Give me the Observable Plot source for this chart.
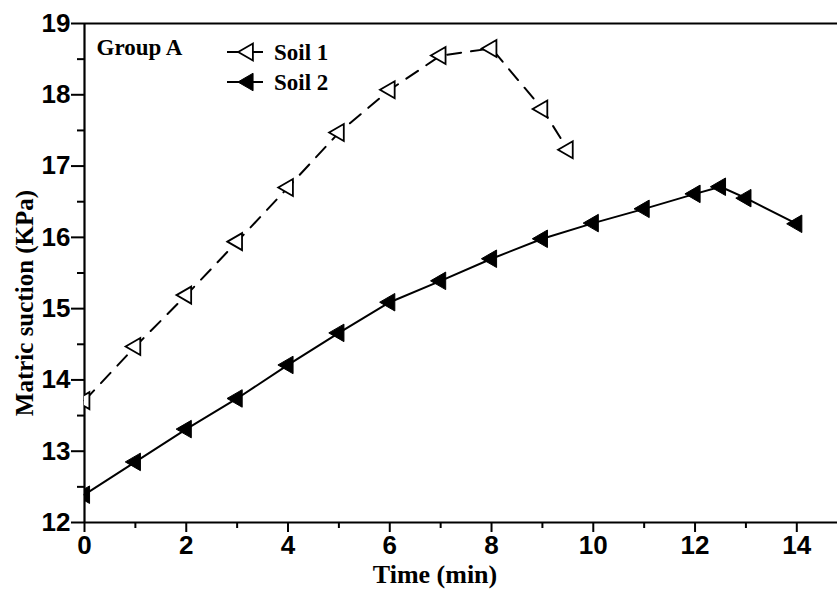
<!DOCTYPE html>
<html>
<head>
<meta charset="utf-8">
<script src="https://cdn.jsdelivr.net/npm/d3@7"></script>
<script src="https://cdn.jsdelivr.net/npm/@observablehq/plot@0.6"></script>
<style>
  html, body { margin: 0; padding: 0; background: white; }
  #chart { position: relative; width: 837px; height: 589px; }
</style>
</head>
<body>
<div id="chart"></div>
<script>
// ---- data ----
const timeSoil1 = [0, 1, 2, 3, 4, 5, 6, 7, 8, 9, 9.5];
const suctionSoil1 = [13.71, 14.47, 15.19, 15.94, 16.70, 17.47, 18.07, 18.55, 18.65, 17.80, 17.23];
const timeSoil2 = [0, 1, 2, 3, 4, 5, 6, 7, 8, 9, 10, 11, 12, 12.5, 13, 14];
const suctionSoil2 = [12.39, 12.85, 13.31, 13.74, 14.21, 14.66, 15.09, 15.39, 15.70, 15.98, 16.20, 16.40, 16.61, 16.71, 16.55, 16.19];
const xMajorTicks = [0, 2, 4, 6, 8, 10, 12, 14];
const xMinorTicks = [1, 3, 5, 7, 9, 11, 13];
const yMajorTicks = [12, 13, 14, 15, 16, 17, 18, 19];
const yMinorTicks = [12.5, 13.5, 14.5, 15.5, 16.5, 17.5, 18.5];
const seriesNames = ["Soil 1", "Soil 2"];
const groupLabel = "Group A";
const xTitle = "Time (min)";
const yTitle = "Matric suction (KPa)";

const soil1 = timeSoil1.map((t, i) => ({time: t, suction: suctionSoil1[i]}));
const soil2 = timeSoil2.map((t, i) => ({time: t, suction: suctionSoil2[i]}));

const sans = "Liberation Sans, Arial, sans-serif";
const serif = "Liberation Serif, Times New Roman, serif";

const tickText = {fontSize: 26, fontWeight: "bold", fontFamily: sans, fill: "black"};

const chart = Plot.plot({
  width: 837,
  height: 589,
  marginLeft: 84,
  marginRight: 0,
  marginTop: 23,
  marginBottom: 67,
  style: {background: "white", color: "black"},
  x: {domain: [0, 14.8]},
  y: {domain: [12, 19]},
  marks: [
    Plot.axisX({ticks: xMajorTicks, tickSize: 10, tickPadding: 3, strokeWidth: 2, label: null, tickFormat: d => d, ...tickText}),
    Plot.axisX({ticks: xMinorTicks, tickSize: 6, strokeWidth: 2, text: null, label: null}),
    Plot.axisY({ticks: yMajorTicks, tickSize: 13, tickPadding: 1, strokeWidth: 2, label: null, tickFormat: d => d, ...tickText}),
    Plot.axisY({ticks: yMinorTicks, tickSize: 7, strokeWidth: 2, text: null, label: null}),
    Plot.ruleY([12, 19], {strokeWidth: 2.2, stroke: "black"}),
    Plot.ruleX([0], {strokeWidth: 2.2, stroke: "black"}),
    Plot.line(soil1, {x: "time", y: "suction", stroke: "black", strokeWidth: 2, strokeDasharray: "14,10"}),
    Plot.dot(soil1, {x: "time", y: "suction", symbol: "triangle", rotate: -90, r: 6.3, stroke: "black", fill: "white", strokeWidth: 1.8, clip: true}),
    Plot.line(soil2, {x: "time", y: "suction", stroke: "black", strokeWidth: 2}),
    Plot.dot(soil2, {x: "time", y: "suction", symbol: "triangle", rotate: -90, r: 6.5, stroke: "black", fill: "black", strokeWidth: 1, clip: true}),
    Plot.text([xTitle], {frameAnchor: "bottom", dx: -26, dy: 52, lineAnchor: "middle", textAnchor: "middle", text: d => d, fontSize: 26, fontWeight: "bold", fontFamily: serif, fill: "black"}),
    Plot.text([yTitle], {frameAnchor: "left", dx: -60, dy: 30, rotate: -90, lineAnchor: "middle", textAnchor: "middle", text: d => d, fontSize: 25, fontWeight: "bold", fontFamily: serif, fill: "black"}),
    Plot.text([groupLabel], {frameAnchor: "top-left", dx: 12, dy: 31, lineAnchor: "bottom", textAnchor: "start", text: d => d, fontSize: 23, fontWeight: "bold", fontFamily: serif, fill: "black"})
  ]
});

document.getElementById("chart").appendChild(chart);

// ---- legend ----
const svg = d3.select(chart);
const lg = svg.append("g").attr("class", "legend").attr("text-anchor", "start");
const rows = [
  {name: seriesNames[0], y: 52, fill: "white", r: 6.3},
  {name: seriesNames[1], y: 82, fill: "black", r: 6.5}
];
rows.forEach(row => {
  lg.append("line").attr("x1", 227).attr("x2", 263).attr("y1", row.y).attr("y2", row.y)
    .attr("stroke", "black").attr("stroke-width", 2);
  lg.append("path")
    .attr("d", d3.symbol(d3.symbolTriangle, row.r * row.r * Math.PI)())
    .attr("transform", `translate(248,${row.y}) rotate(-90)`)
    .attr("fill", row.fill).attr("stroke", "black").attr("stroke-width", row.fill === "white" ? 1.8 : 1);
  lg.append("text").attr("x", 274).attr("y", row.y + 7.5)
    .attr("text-anchor", "start")
    .attr("font-family", serif).attr("font-weight", "bold").attr("font-size", 23)
    .attr("fill", "black").text(row.name);
});
</script>
</body>
</html>
